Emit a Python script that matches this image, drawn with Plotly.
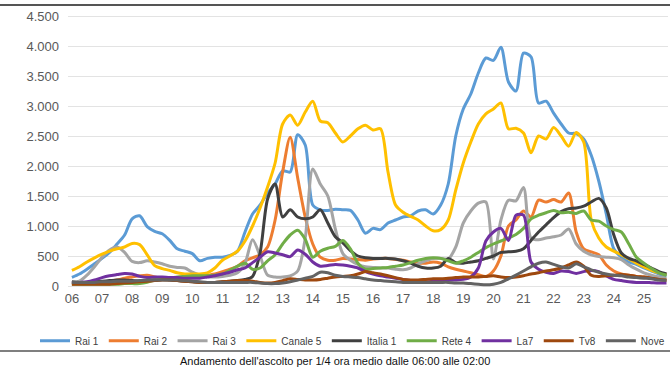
import plotly.graph_objects as go

hours = [6 + i / 4 for i in range(80)]
tick_vals = list(range(6, 26))
tick_text = [f"{h:02d}" for h in tick_vals]

rai1 = [145, 200, 280, 370, 460, 560, 700, 850, 1120, 1170, 990, 910,
        870, 760, 620, 580, 540, 420, 460, 480, 480, 510, 580, 900,
        1200, 1350, 1550, 1700, 1920, 1900, 2520, 2350, 1350, 1270, 1260, 1280,
        1270, 1260, 1100, 880, 960, 940, 1050, 1100, 1150, 1170, 1250, 1270,
        1200, 1350, 1700, 2500, 2950, 3200, 3550, 3800, 3760, 3980, 3400, 3250,
        3880, 3820, 3050, 3080, 2880, 2700, 2550, 2540, 2450, 2180, 1750, 1200,
        620, 480, 400, 360, 300, 250, 200, 160]
rai2 = [50, 40, 40, 50, 60, 80, 100, 130, 150, 170, 180, 150,
        130, 120, 110, 120, 140, 160, 180, 200, 240, 280, 330, 420,
        470, 520, 650, 1100, 1900, 2480, 1800, 1150, 700, 480, 430, 430,
        460, 450, 440, 430, 450, 460, 460, 440, 430, 400, 380, 380,
        400, 380, 320, 280, 250, 220, 190, 160, 250, 500, 1000, 1100,
        1250, 1150, 1430, 1400, 1440, 1400, 1550, 900, 620, 570, 520, 350,
        250, 200, 180, 160, 150, 130, 110, 100]
rai3 = [60, 80, 180, 320, 480, 600, 650, 560, 410, 390, 420, 400,
        370, 330, 310, 300, 230, 180, 160, 150, 160, 180, 220, 380,
        770, 500, 180, 150, 150, 170, 250, 800, 1950, 1700, 1500, 950,
        540, 430, 360, 320, 310, 300, 300, 280, 270, 300, 370, 420,
        460, 460, 450, 650, 1050, 1250, 1380, 1400, 450, 1100, 1430, 1420,
        1640, 800, 770, 800, 820, 850, 950, 700, 580, 520, 490, 480,
        470, 440, 350, 280, 220, 180, 150, 130]
canale5 = [260, 320, 400, 470, 530, 580, 620, 650, 710, 690, 520, 340,
           290, 260, 220, 200, 200, 200, 220, 300, 430, 500, 580, 750,
           1000, 1300, 1650, 2050, 2700, 2850, 2680, 2900, 3080, 2750, 2720, 2550,
           2400, 2500, 2620, 2680, 2600, 2620, 1900, 1350, 1230, 1160, 1100, 1000,
           920, 940, 1100, 1600, 2050, 2400, 2700, 2870, 2950, 3050, 2620, 2630,
           2550, 2220, 2500, 2450, 2640, 2500, 2330, 2560, 2400, 1100, 800, 650,
           580, 520, 450, 380, 320, 260, 220, 190]
italia1 = [70, 60, 60, 70, 80, 90, 100, 100, 90, 80, 90, 100,
           110, 100, 90, 80, 70, 60, 60, 60, 70, 80, 90, 110,
           160, 550, 1450, 1700, 1150, 1270, 1150, 1120, 1150, 1270, 1050, 820,
           720, 590, 500, 470, 460, 460, 460, 450, 420, 380, 330, 300,
           300, 330, 460, 390, 380, 400, 420, 460, 500, 560, 570, 580,
           620, 760, 900, 1020, 1140, 1240, 1290, 1300, 1330, 1400, 1460, 1300,
           850, 550, 460, 420, 360, 300, 240, 200]
rete4 = [30, 30, 30, 30, 30, 30, 30, 40, 40, 40, 60, 100,
         120, 130, 150, 160, 170, 170, 170, 180, 200, 260, 330, 380,
         280, 300, 420, 520, 700, 850, 930, 780, 480, 580, 630, 660,
         760, 620, 380, 280, 290, 300, 310, 330, 350, 390, 430, 460,
         470, 460, 420, 380, 420, 480, 560, 640, 700, 750, 800, 860,
         960, 1120, 1180, 1220, 1260, 1220, 1230, 1210, 1250, 1100, 1080, 1000,
         940, 900, 700, 480, 380, 290, 220, 180]
la7 = [50, 60, 70, 100, 140, 170, 190, 210, 200, 160, 140, 150,
       150, 140, 140, 130, 130, 130, 150, 170, 200, 230, 270, 300,
       390, 480, 570, 550, 520, 490, 600, 530, 400, 330, 340, 360,
       350, 330, 300, 240, 200, 170, 150, 130, 110, 90, 80, 70,
       80, 100, 100, 100, 110, 150, 300, 750, 900, 960, 760, 1180,
       1180, 400, 280, 230, 210, 250, 240, 210, 240, 260, 240, 170,
       110, 90, 70, 60, 60, 55, 50, 50]
tv8 = [30, 30, 30, 30, 30, 30, 40, 50, 60, 70, 80, 90,
       100, 100, 90, 80, 70, 60, 60, 60, 70, 80, 90, 90,
       80, 60, 50, 60, 90, 120, 110, 100, 100, 110, 130, 150,
       160, 170, 200, 240, 220, 200, 170, 140, 110, 100, 100, 110,
       120, 120, 130, 140, 150, 150, 150, 160, 170, 150, 140, 150,
       170, 200, 220, 250, 270, 300, 350, 400, 330, 180, 160, 170,
       180, 190, 180, 160, 150, 130, 110, 100]
nove = [60, 60, 60, 60, 70, 70, 80, 80, 80, 90, 100, 100,
        100, 100, 100, 90, 80, 70, 60, 60, 60, 60, 60, 60,
        60, 50, 40, 40, 50, 70, 100, 130, 160, 230, 220, 180,
        160, 150, 140, 120, 100, 90, 80, 70, 60, 60, 60, 60,
        60, 60, 60, 50, 50, 40, 30, 20, 30, 60, 120, 180,
        250, 320, 380, 400, 360, 320, 300, 370, 320, 270, 230, 200,
        180, 170, 150, 140, 130, 120, 100, 90]

names = ["Rai 1", "Rai 2", "Rai 3", "Canale 5", "Italia 1", "Rete 4", "La7", "Tv8", "Nove"]
series = [rai1, rai2, rai3, canale5, italia1, rete4, la7, tv8, nove]
colors = ["#5B9BD5", "#ED7D31", "#A5A5A5", "#FFC000", "#404040",
          "#70AD47", "#7030A0", "#9E480E", "#636363"]

fig = go.Figure()
for name, vals, col in zip(names, series, colors):
    fig.add_trace(go.Scatter(x=hours, y=vals, name=name, mode="lines",
                             line=dict(color=col, width=3, shape="spline", smoothing=0.8)))

fig.update_layout(
    width=670, height=377,
    margin=dict(l=68, r=2, t=13, b=88, autoexpand=False),
    paper_bgcolor="white", plot_bgcolor="white",
    separators=",.",
    font=dict(family="Liberation Sans, Arial, sans-serif", color="#595959"),
    showlegend=True,
    legend=dict(orientation="h", x=-0.055, xanchor="left", y=-0.135, yanchor="top",
                font=dict(family="Liberation Sans Narrow, Arial Narrow, Liberation Sans, sans-serif",
                          size=10, color="#404040"),
                itemwidth=30, tracegroupgap=0, bgcolor="rgba(0,0,0,0)"),
    xaxis=dict(range=[5.87, 25.8], tickmode="array", tickvals=tick_vals, ticktext=tick_text,
               showgrid=False, zeroline=False, showline=False,
               tickfont=dict(size=13, color="#595959")),
    yaxis=dict(range=[-50, 4550], tickmode="linear", tick0=0, dtick=500, tickformat=",d",
               showgrid=True, gridcolor="#E3E3E3", gridwidth=1, zeroline=False, showline=False,
               ticklabelstandoff=8, tickfont=dict(size=13, color="#595959")),
    shapes=[
        dict(type="line", xref="paper", yref="paper", x0=-0.12, x1=1.01, y0=1.029, y1=1.029,
             line=dict(color="#555555", width=2)),
        dict(type="line", xref="paper", yref="paper", x0=-0.12, x1=1.01, y0=-0.225, y1=-0.225,
             line=dict(color="#555555", width=1.5)),
    ],
    annotations=[
        dict(text="Andamento dell'ascolto per 1/4 ora medio dalle 06:00 alle 02:00",
             xref="paper", yref="paper", x=0.445, y=-0.262, xanchor="center", yanchor="middle",
             showarrow=False, font=dict(family="Liberation Sans, Arial, sans-serif", size=11, color="#111111")),
    ],
)

fig.write_html("out.html", config={"displayModeBar": False},
               post_script="document.body.style.margin='0';")
